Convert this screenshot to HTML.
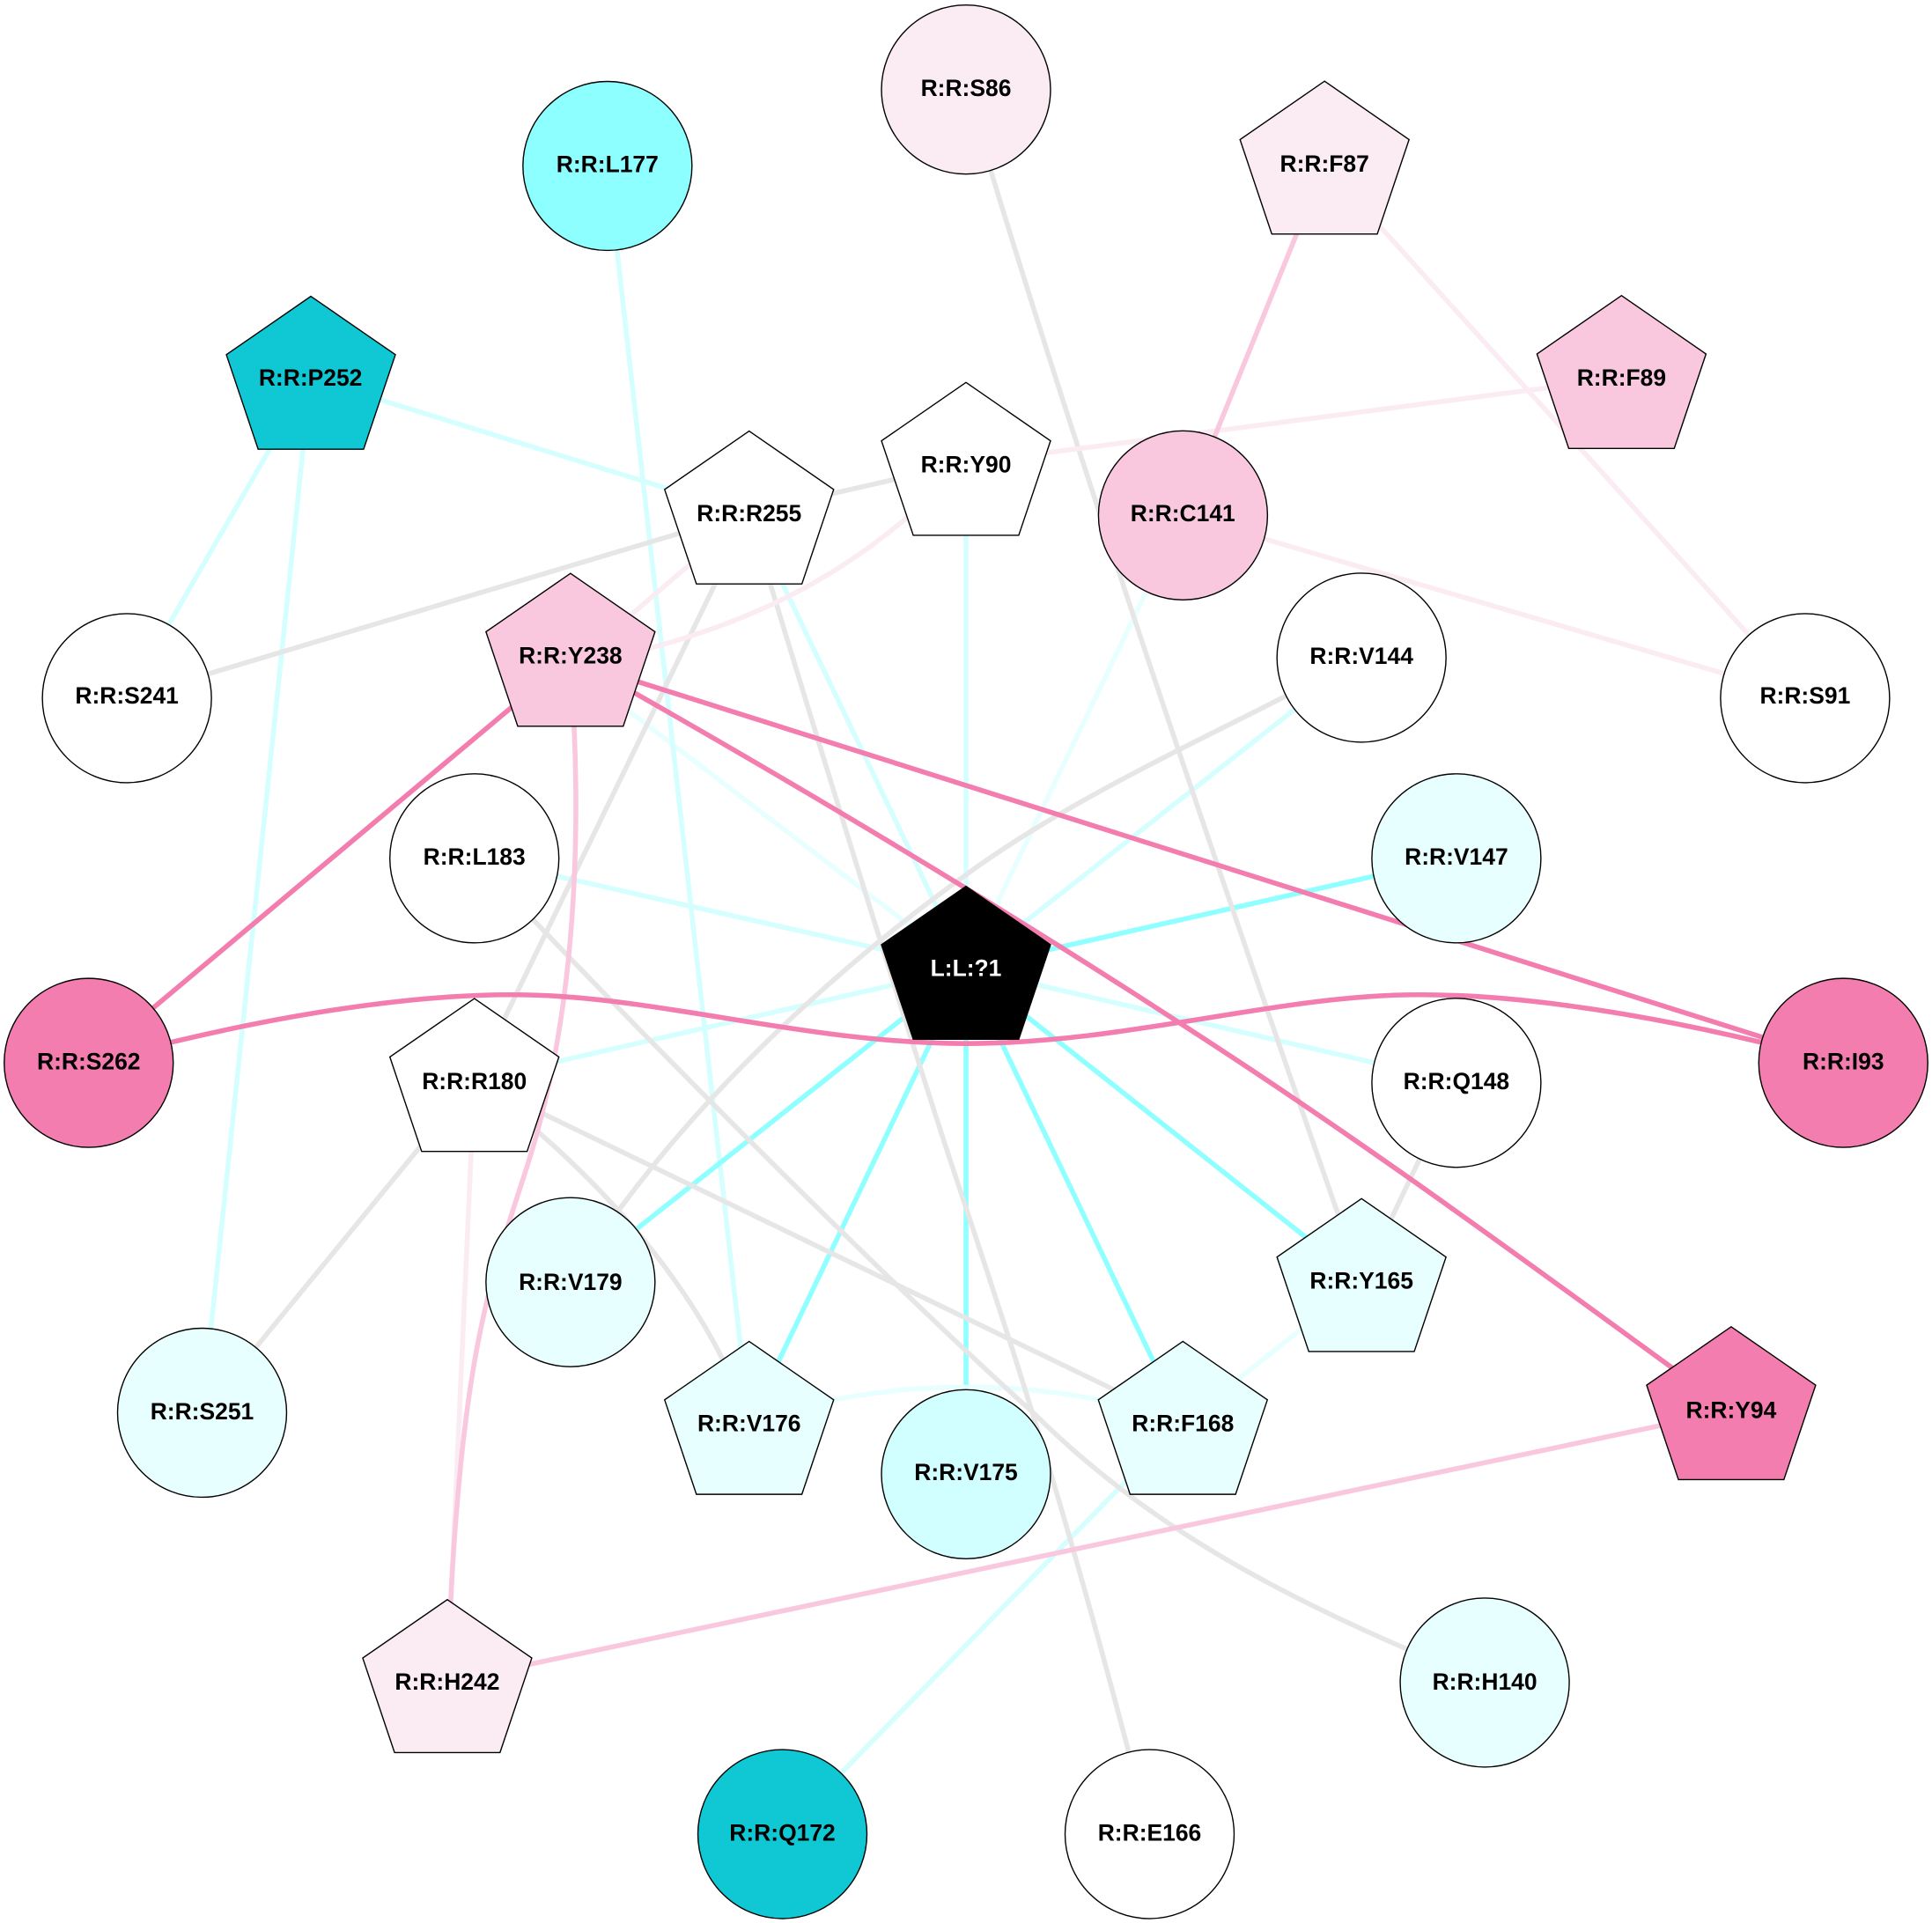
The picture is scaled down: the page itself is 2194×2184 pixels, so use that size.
<!DOCTYPE html>
<html><head><meta charset="utf-8"><style>
html,body{margin:0;padding:0;background:#fff;width:2194px;height:2184px;overflow:hidden}
svg{display:block}
text{font-family:"Liberation Sans",sans-serif;font-weight:bold;font-size:18.9px;text-anchor:middle;fill:#000}
.e path,.e line{fill:none;stroke-width:4}
.g{stroke:#e6e6e6}.c1{stroke:#8fffff}.c2{stroke:#d5ffff}.c3{stroke:#e8ffff}
.p1{stroke:#f27dae}.p2{stroke:#f9c8de}.p3{stroke:#fbebf3}
.n circle,.n polygon{stroke:#000;stroke-width:1}
</style></head><body>
<svg width="2194" height="2184" viewBox="0 0 1568 1560.86" xmlns="http://www.w3.org/2000/svg">
<defs><polygon id="pt" points="0,-66.1 68.6,-18.7 42.8,58 -42.8,58 -68.6,-18.7"/></defs>
<rect width="1568" height="1561" fill="#fff"/>
<g class="e">
<line class="c2" x1="784" y1="376" x2="784" y2="786"/>
<line class="c3" x1="960" y1="418" x2="784" y2="786"/>
<line class="c2" x1="1105" y1="533" x2="784" y2="786"/>
<line class="c2" x1="1182" y1="878" x2="784" y2="786"/>
<line class="c2" x1="385" y1="877" x2="784" y2="786"/>
<line class="c2" x1="385" y1="696" x2="784" y2="786"/>
<line class="c3" x1="463" y1="541" x2="784" y2="786"/>
<line class="c2" x1="608" y1="417" x2="784" y2="786"/>
<line class="c2" x1="493" y1="134" x2="608" y2="1155"/>
<line class="c2" x1="252" y1="307" x2="608" y2="417"/>
<line class="c2" x1="252" y1="307" x2="103" y2="566"/>
<line class="c2" x1="252" y1="307" x2="164" y2="1147"/>
<line class="c3" x1="1105" y1="1040" x2="960" y2="1155"/>
<path class="c3" d="M608,1155 C720,1116 850,1116 960,1155"/>
<line class="c2" x1="960" y1="1155" x2="635" y2="1488"/>
<line class="c1" x1="1182" y1="696" x2="784" y2="786"/>
<line class="c1" x1="1105" y1="1040" x2="784" y2="786"/>
<line class="c1" x1="960" y1="1155" x2="784" y2="786"/>
<line class="c1" x1="784" y1="1124" x2="784" y2="786"/>
<line class="c1" x1="608" y1="1155" x2="784" y2="786"/>
<line class="c1" x1="463" y1="1040" x2="784" y2="786"/>
<line class="g" x1="608" y1="416" x2="784" y2="376"/>
<line class="g" x1="608" y1="416" x2="103" y2="566.7"/>
<line class="g" x1="608" y1="417" x2="385" y2="877"/>
<path class="g" d="M608,417 C660,590 730,815 767,929 C810,1060 860,1200 933,1488"/>
<path class="g" d="M784,72 C858,320 958,620 1105,1040"/>
<path class="g" d="M1105,533 C1000,590 880,640 784,710 C680,785 550,900 463,1040"/>
<path class="g" d="M385,696 C520,840 720,1040 840,1148 C945,1252 1070,1310 1205,1365"/>
<line class="g" x1="385" y1="877" x2="960" y2="1155"/>
<path class="g" d="M385,877 C470,940 570,1040 608,1155"/>
<line class="g" x1="385" y1="877" x2="164" y2="1147"/>
<line class="g" x1="1182" y1="878" x2="1105" y2="1040"/>
<line class="p3" x1="1075" y1="134" x2="1465" y2="566"/>
<line class="p3" x1="1316" y1="307" x2="784" y2="376"/>
<line class="p3" x1="960" y1="418" x2="1465" y2="566"/>
<path class="p3" d="M784,376 C700,460 620,510 463,541"/>
<line class="p3" x1="608" y1="417" x2="463" y2="541"/>
<line class="p3" x1="385" y1="877" x2="363" y2="1365"/>
<line class="p2" x1="1075" y1="134" x2="960" y2="418"/>
<path class="p2" d="M463,541 C475,700 462,840 428,946 C398,1040 372,1100 363,1365"/>
<line class="p2" x1="1405" y1="1145" x2="363" y2="1365"/>
<line class="p1" x1="463" y1="534" x2="72" y2="862"/>
<line class="p1" x1="463" y1="536" x2="1496" y2="862.7"/>
<path class="p1" d="M463,533 C600,610 780,715 960,832 C1120,935 1260,1040 1405,1145"/>
<path class="p1" d="M72,863 C238,818 368,802 458,809 C558,816 668,847 784,847 C900,847 1010,816 1110,809 C1200,802 1330,818 1496,863"/>
</g>
<g class="n">
<circle cx="493" cy="134.7" r="68.6" fill="#8dffff"/><text x="493" y="139.8">R:R:L177</text>
<circle cx="784" cy="72.7" r="68.6" fill="#fbecf4"/><text x="784" y="77.8">R:R:S86</text>
<use href="#pt" x="1075" y="132" fill="#fbecf4" stroke="#000"/><text x="1075" y="139.4">R:R:F87</text>
<use href="#pt" x="1316" y="306" fill="#f9c8de" stroke="#000"/><text x="1316" y="313">R:R:F89</text>
<use href="#pt" x="252.3" y="306.6" fill="#0fc8d3" stroke="#000"/><text x="252" y="313">R:R:P252</text>
<use href="#pt" x="608" y="416" fill="#fff" stroke="#000"/><text x="608" y="423">R:R:R255</text>
<use href="#pt" x="784" y="376.5" fill="#fff" stroke="#000"/><text x="784" y="383.5">R:R:Y90</text>
<circle cx="960.1" cy="418.3" r="68.6" fill="#f9c8de"/><text x="960" y="423">R:R:C141</text>
<use href="#pt" x="463" y="531.5" fill="#f9c8de" stroke="#000"/><text x="463" y="538.4">R:R:Y238</text>
<circle cx="103" cy="566.7" r="68.6" fill="#fff"/><text x="103" y="571">R:R:S241</text>
<circle cx="1105" cy="533.8" r="68.6" fill="#fff"/><text x="1105" y="538.9">R:R:V144</text>
<circle cx="1465" cy="566.7" r="68.6" fill="#fff"/><text x="1465" y="571">R:R:S91</text>
<circle cx="385" cy="696.7" r="68.6" fill="#fff"/><text x="385" y="701.8">R:R:L183</text>
<circle cx="1182" cy="696.7" r="68.6" fill="#e8ffff"/><text x="1182" y="701.8">R:R:V147</text>
<circle cx="72" cy="862.7" r="68.6" fill="#f27dae"/><text x="72" y="868">R:R:S262</text>
<use href="#pt" x="784" y="785.5" fill="#000" stroke="#000"/><text x="784" y="792.1" style="fill:#fff">L:L:?1</text>
<circle cx="1496" cy="862.7" r="68.6" fill="#f27dae"/><text x="1496" y="868">R:R:I93</text>
<use href="#pt" x="385" y="876.6" fill="#fff" stroke="#000"/><text x="385" y="884">R:R:R180</text>
<circle cx="1182" cy="878.9" r="68.6" fill="#fff"/><text x="1182" y="884">R:R:Q148</text>
<circle cx="463" cy="1040.7" r="68.6" fill="#e8ffff"/><text x="463" y="1046.9">R:R:V179</text>
<use href="#pt" x="1105" y="1039" fill="#e8ffff" stroke="#000"/><text x="1105" y="1046">R:R:Y165</text>
<circle cx="164" cy="1146.7" r="68.6" fill="#e8ffff"/><text x="164" y="1152">R:R:S251</text>
<use href="#pt" x="608" y="1154.9" fill="#e8ffff" stroke="#000"/><text x="608" y="1161.7">R:R:V176</text>
<circle cx="784" cy="1196.6" r="68.6" fill="#d1ffff"/><text x="784" y="1201.5">R:R:V175</text>
<use href="#pt" x="960" y="1154.9" fill="#e8ffff" stroke="#000"/><text x="960" y="1161.7">R:R:F168</text>
<use href="#pt" x="1405" y="1143" fill="#f27dae" stroke="#000"/><text x="1405" y="1151">R:R:Y94</text>
<use href="#pt" x="363" y="1364.5" fill="#fbecf4" stroke="#000"/><text x="363" y="1371.5">R:R:H242</text>
<circle cx="1205" cy="1365.7" r="68.6" fill="#e8ffff"/><text x="1205" y="1371.5">R:R:H140</text>
<circle cx="635" cy="1488.7" r="68.6" fill="#0fc8d3"/><text x="635" y="1494">R:R:Q172</text>
<circle cx="933" cy="1488.7" r="68.6" fill="#fff"/><text x="933" y="1494">R:R:E166</text>
</g>
</svg>
</body></html>
